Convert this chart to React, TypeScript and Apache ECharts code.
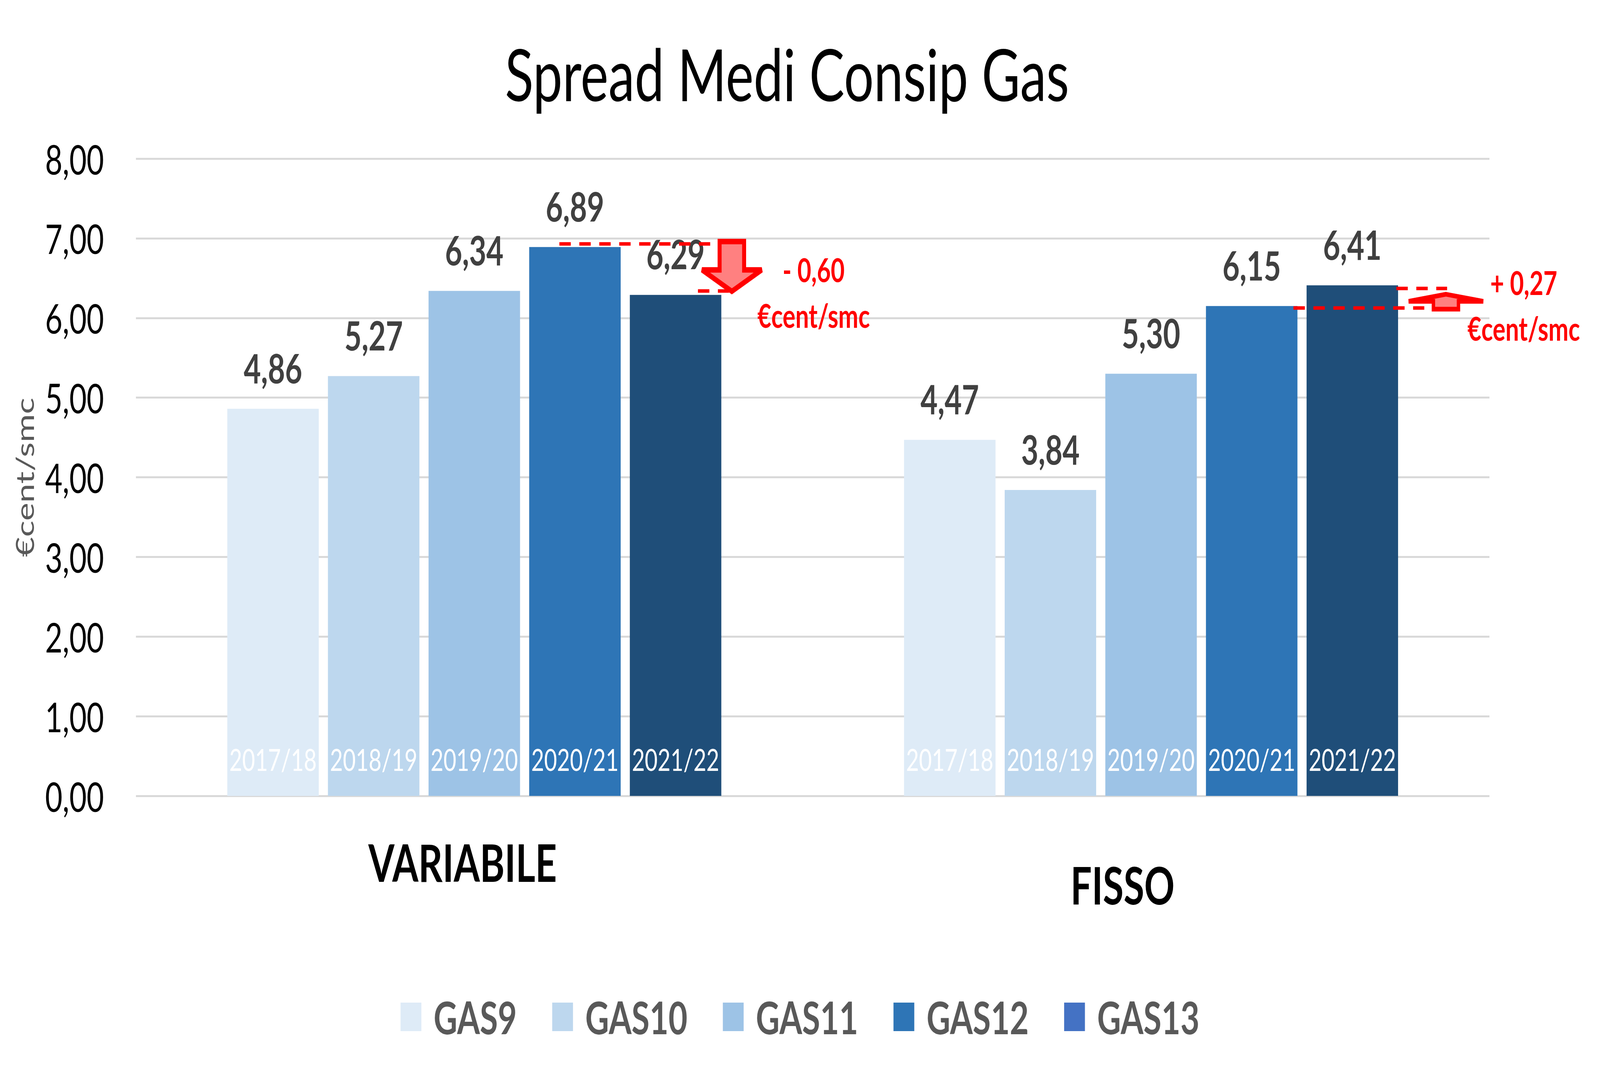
import React, { useEffect, useRef } from "react";
import * as echarts from "echarts";

const categories = ["VARIABILE", "FISSO"];
const seriesNames = ["GAS9", "GAS10", "GAS11", "GAS12", "GAS13"];
const periods = ["2017/18", "2018/19", "2019/20", "2020/21", "2021/22"];
const gas9 = [4.86, 4.47];
const gas10 = [5.27, 3.84];
const gas11 = [6.34, 5.3];
const gas12 = [6.89, 6.15];
const gas13 = [6.29, 6.41];
const seriesValues = [gas9, gas10, gas11, gas12, gas13];
const barColors = ["#DEEBF7", "#BDD7EE", "#9DC3E6", "#2E75B6", "#1F4E79"];
const legendColors = ["#DEEBF7", "#BDD7EE", "#9DC3E6", "#2E75B6", "#4472C4"];
const yMin = 0;
const yMax = 8;
const yInterval = 1;
const deltaLabels = ["- 0,60", "+ 0,27"];
const deltaUnit = "€cent/smc";

const W = 5615;
const H = 2759;
const FONT = "Lato";
const BAR_CAT_GAP = 0.27;
const BAR_GAP = 0.1;

const fmt = (v: number) => v.toFixed(2).replace(".", ",");

export default function App() {
  const ref = useRef<HTMLDivElement>(null);
  const sx = typeof window !== "undefined" ? window.innerWidth / W : 1;
  const sy = typeof window !== "undefined" ? window.innerHeight / H : 1;

  useEffect(() => {
    document.body.style.margin = "0";
    const chart = echarts.init(ref.current!, null, { renderer: "svg", width: W, height: H });

    const mainSeries = seriesNames.map((name, k) => ({
      type: "bar",
      name,
      data: seriesValues[k],
      xAxisIndex: 0,
      yAxisIndex: 0,
      barGap: BAR_GAP * 100 + "%",
      barCategoryGap: BAR_CAT_GAP * 100 + "%",
      itemStyle: { color: barColors[k] },
      label: {
        show: true,
        position: "top",
        distance: 54,
        formatter: (p: any) => fmt(p.value),
        fontSize: 104,
        fontWeight: "bold",
        color: "#404040",
        fontFamily: FONT,
      },
    }));

    const periodSeries = seriesNames.map((name, k) => ({
      type: "bar",
      name: name + "-period",
      data: seriesValues[k],
      xAxisIndex: 1,
      yAxisIndex: 0,
      barGap: BAR_GAP * 100 + "%",
      barCategoryGap: BAR_CAT_GAP * 100 + "%",
      silent: true,
      itemStyle: { color: "rgba(0,0,0,0)" },
      label: {
        show: true,
        position: "insideBottom",
        distance: 55,
        formatter: () => periods[k],
        fontSize: 78,
        color: "#FFFFFF",
        fontFamily: FONT,
      },
    }));

    const option: any = {
      animation: false,
      textStyle: { fontFamily: FONT },
      title: {
        text: "Spread Medi Consip Gas",
        left: 1772,
        top: 95,
        padding: 0,
        textStyle: {
          fontSize: 185,
          fontWeight: "normal",
          color: "#000000",
          fontFamily: FONT,
        },
      },
      legend: {
        data: seriesNames.map((n, k) => ({ name: n, itemStyle: { color: legendColors[k] } })),
        left: "center",
        top: 2545,
        padding: [0, 58, 0, 0],
        icon: "rect",
        itemWidth: 73,
        itemHeight: 73,
        itemGap: 124,
        selectedMode: false,
        textStyle: {
          fontSize: 115,
          fontWeight: "bold",
          color: "#595959",
          fontFamily: FONT,
          padding: [0, 0, 0, 38],
        },
      },
      grid: { left: 477, right: 388, top: 406, bottom: 722 },
      xAxis: [
        {
          type: "category",
          data: [
            { value: categories[0], textStyle: { padding: [0, 82, 0, 0] } },
            { value: categories[1], textStyle: { padding: [58, 200, 0, 0] } },
          ],
          axisLine: { show: false },
          axisTick: { show: false },
          axisLabel: {
            margin: 103,
            fontSize: 132,
            fontWeight: "bold",
            color: "#000000",
            fontFamily: FONT,
          },
        },
        {
          type: "category",
          data: categories,
          show: false,
        },
      ],
      yAxis: {
        type: "value",
        min: yMin,
        max: yMax,
        interval: yInterval,
        name: "€cent/smc",
        nameLocation: "middle",
        nameGap: 348,
        nameRotate: 90,
        nameTextStyle: { fontSize: 88, color: "#595959", fontFamily: FONT },
        axisLine: { show: false },
        axisTick: { show: false },
        axisLabel: {
          margin: 112,
          fontSize: 105,
          color: "#000000",
          fontFamily: FONT,
          formatter: (v: number) => fmt(v),
        },
        splitLine: { lineStyle: { color: "#D9D9D9", width: 5 } },
      },
      series: [...mainSeries, ...periodSeries],
    };

    chart.setOption(option);

    // Annotation geometry derived from the axes
    const xc0 = chart.convertToPixel({ xAxisIndex: 0 }, categories[0]) as number;
    const xc1 = chart.convertToPixel({ xAxisIndex: 0 }, categories[1]) as number;
    const catW = xc1 - xc0;
    const n = seriesNames.length;
    const barW = (catW * (1 - BAR_CAT_GAP)) / (n + (n - 1) * BAR_GAP);
    const span = barW * (n + (n - 1) * BAR_GAP);
    const bar = (ci: number, k: number) => {
      const c = ci === 0 ? xc0 : xc1;
      const left = c - span / 2 + k * barW * (1 + BAR_GAP);
      return { left, right: left + barW };
    };
    const py = (v: number) => chart.convertToPixel({ yAxisIndex: 0 }, v) as number;

    const dash = { stroke: "#FF0000", lineWidth: 9, lineDash: [40, 30] };
    const arrowStyle = { stroke: "#FF0000", lineWidth: 14, fill: "#FF8080", lineJoin: "miter" };
    const txtStyle = (x: number, y: number, text: string) => ({
      type: "text",
      z: 100,
      style: {
        x,
        y,
        text,
        fill: "#FF0000",
        fontSize: 84,
        fontWeight: "bold",
        fontFamily: FONT,
        align: "center",
        verticalAlign: "middle",
      },
    });

    // VARIABILE: GAS12 -> GAS13
    const a4 = bar(0, 3);
    const a5 = bar(0, 4);
    const aHi = py(gas12[0]);
    const aLo = py(gas13[0]);
    const acx = a5.right + 37;
    const aTop = aHi - 14;
    const aHead = aLo - 64;
    const aTip = aLo - 9;

    // FISSO: GAS12 -> GAS13
    const b4 = bar(1, 3);
    const b5 = bar(1, 4);
    const bHi = py(gas13[1]);
    const bLo = py(gas12[1]);
    const bcx = b5.right + 168;
    const bTip = bHi + 23;
    const bHead = bLo - 12;
    const bBot = bLo + 8;

    const graphic: any[] = [
      {
        type: "line",
        z: 100,
        shape: { x1: a4.left + 0.33 * barW, y1: aHi - 8, x2: a5.right - 39, y2: aHi - 8 },
        style: dash,
      },
      {
        type: "line",
        z: 100,
        shape: { x1: a5.right - 82, y1: aLo - 10, x2: a5.right + 27, y2: aLo - 10 },
        style: dash,
      },
      {
        type: "polygon",
        z: 101,
        shape: {
          points: [
            [acx - 43, aTop],
            [acx + 43, aTop],
            [acx + 43, aHead],
            [acx + 105, aHead],
            [acx, aTip],
            [acx - 105, aHead],
            [acx - 43, aHead],
          ],
        },
        style: arrowStyle,
      },
      txtStyle(a5.right + 324, aLo - 65, deltaLabels[0]),
      txtStyle(a5.right + 324, aLo + 52, deltaUnit),

      {
        type: "line",
        z: 100,
        shape: { x1: b5.right - 6, y1: bHi + 8, x2: b5.right + 172, y2: bHi + 8 },
        style: dash,
      },
      {
        type: "line",
        z: 100,
        shape: { x1: b4.right - 14, y1: bLo + 5, x2: b5.right + 92, y2: bLo + 5 },
        style: dash,
      },
      {
        type: "polygon",
        z: 101,
        shape: {
          points: [
            [bcx, bTip],
            [bcx + 131, bHead],
            [bcx + 44, bHead],
            [bcx + 44, bBot],
            [bcx - 44, bBot],
            [bcx - 44, bHead],
            [bcx - 131, bHead],
          ],
        },
        style: { ...arrowStyle, lineWidth: 12 },
      },
      txtStyle(b5.right + 441, bHi - 8, deltaLabels[1]),
      txtStyle(b5.right + 441, bHi + 109, deltaUnit),
    ];

    chart.setOption({ graphic });

    return () => chart.dispose();
  }, []);

  return (
    <div style={{ position: "fixed", left: 0, top: 0, width: "100vw", height: "100vh", overflow: "hidden", background: "#FFFFFF" }}>
      <div
        style={{
          position: "absolute",
          left: 0,
          top: 0,
          width: W,
          height: H,
          transform: `scale(${sx}, ${sy})`,
          transformOrigin: "0 0",
        }}
      >
        <div ref={ref} style={{ width: W, height: H }} />
      </div>
    </div>
  );
}
